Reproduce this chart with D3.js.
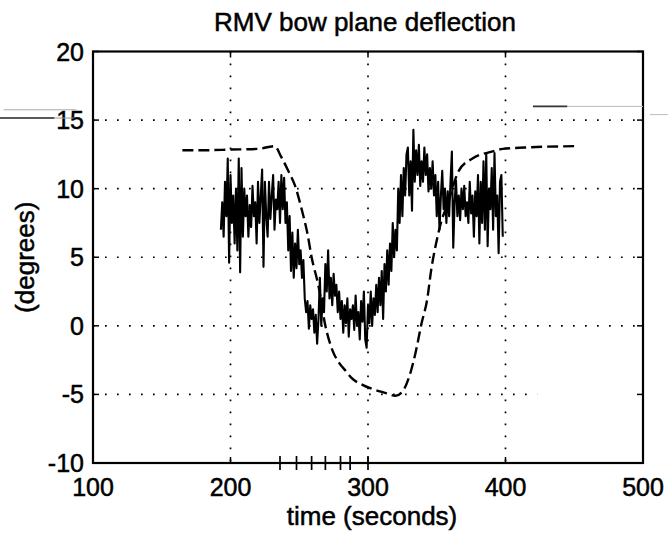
<!DOCTYPE html>
<html>
<head>
<meta charset="utf-8">
<script src="https://cdn.jsdelivr.net/npm/d3@7"></script>
<style>
  body { margin: 0; background: #fff; }
  text { font-family: Arial, "Liberation Sans", sans-serif; fill: #000; stroke: #000; stroke-width: 0.5px; }
</style>
</head>
<body>
<div id="chartDiv"></div>
<script>
var xTicks = [100, 200, 300, 400, 500];
var yTicks = [-10, -5, 0, 5, 10, 15, 20];

// measured bow plane deflection, one sample per second from t = 193 s
var deflStart = 193;
var deflValues = [
  7.0, 9.0, 6.5, 10.5, 8.0, 12.2, 4.6,
  11.0, 7.5, 9.5, 6.0, 10.0, 5.5, 12.2, 3.9, 11.5, 6.5,
  10.0, 8.0, 9.5, 6.5, 8.8, 7.2, 10.2, 8.0, 9.0, 6.0,
  10.5, 7.5, 9.5, 11.4, 4.3, 10.5, 8.0, 6.5, 10.5, 7.8,
  9.5, 11.0, 7.0, 9.2, 8.5, 10.5, 7.5, 11.0, 8.5, 10.8,
  7.5, 9.0, 5.5, 8.0, 4.0, 6.8, 3.5, 6.0, 4.2, 7.0,
  4.5, 5.5, 3.5, 4.8, 2.0, 1.0, 1.8, -0.2, 1.5, 0.5,
  1.2, -0.5, 0.8, -1.3, 0.5, 3.5, 0.0, 2.0, 1.0, 4.5,
  2.5, 5.5, 2.0, 3.5, 1.5, 3.8, 2.2, 3.0, 1.0, 2.5,
  0.5, 1.8, -0.5, 1.5, 0.2, 2.0, -0.8, 1.2, 0.5, 1.5,
  -0.3, 2.2, 0.0, 1.0, -1.0, 1.8, 0.3, 2.5, -1.0, -1.6,
  1.5, 0.2, 2.5, 0.0, 2.0, 0.8, 3.0, 1.0, 3.5, 1.5,
  4.0, 0.5, 4.5, 2.5, 5.5, 3.0, 6.0, 4.0, 7.5, 5.0,
  7.0, 5.5, 10.0, 7.5, 11.0, 8.0, 11.5, 9.5, 12.5, 13.0,
  9.5, 12.0, 8.4, 14.3, 10.5, 12.8, 11.0, 13.2, 10.2, 12.0,
  10.5, 13.0, 11.0, 12.5, 9.8, 11.5, 10.0, 12.0, 9.5, 11.0,
  8.0, 10.5, 7.0, 9.5, 11.3, 8.5, 10.0, 7.5, 9.8, 8.0,
  10.5, 12.7, 5.7, 9.0, 10.6, 8.0, 9.5, 7.7, 10.0, 8.5,
  10.2, 8.0, 9.0, 7.5, 10.5, 8.2, 9.5, 6.5, 9.8, 8.0,
  11.0, 6.0, 10.5, 7.5, 12.0, 7.0, 12.6, 5.8, 10.0, 8.5,
  11.5, 7.0, 12.6, 8.0, 9.5, 5.3, 10.5, 11.0, 6.5
];

// commanded deflection (dashed)
var cmdTimes  = [165, 180, 200, 220, 232, 237, 242, 247, 252, 256, 259, 264, 269, 274, 279, 284, 288, 296, 303, 313, 320, 325, 330, 334.5, 339, 343, 346, 349.5, 353, 358, 366, 376, 390, 398, 414, 451];
var cmdValues = [12.8, 12.8, 12.85, 12.9, 13.1, 12.3, 11.3, 10.2, 8.4, 6.7, 5.0, 2.9, 0.0, -1.75, -2.7, -3.3, -3.8, -4.3, -4.6, -4.9, -5.1, -4.8, -3.7, -2.0, 0.2, 1.9, 4.1, 6.0, 7.5, 8.9, 11.3, 12.2, 12.7, 12.9, 13.0, 13.1];

// event marks along the time axis
var markTimes = [236, 248, 259, 269, 280, 287, 300];

var width = 669, height = 534;
var margin = {left: 93, top: 51.5, right: 26, bottom: 71};
var innerW = width - margin.left - margin.right,
    innerH = height - margin.top - margin.bottom;

var x = d3.scaleLinear().domain([100, 500]).range([0, innerW]);
var y = d3.scaleLinear().domain([-10, 20]).range([innerH, 0]);

var svg = d3.select("#chartDiv").append("svg")
  .attr("width", width)
  .attr("height", height);

var g = svg.append("g")
  .attr("transform", "translate(" + margin.left + "," + margin.top + ")");

//////////////////// grid ////////////////////
g.selectAll("line.vgrid")
  .data(xTicks.slice(1, -1))
  .enter().append("line")
  .attr("class", "vgrid")
  .attr("x1", function(d) { return x(d); })
  .attr("x2", function(d) { return x(d); })
  .attr("y1", 0).attr("y2", innerH)
  .attr("stroke", "#000").attr("stroke-width", 1.7)
  .attr("stroke-dasharray", "1.7,10.3");

g.selectAll("line.hgrid")
  .data(yTicks.slice(1, -1))
  .enter().append("line")
  .attr("class", "hgrid")
  .attr("x1", 0)
  .attr("x2", function(d) { return d == -5 ? x(423) : innerW; }) // faded on the scan
  .attr("y1", function(d) { return y(d); })
  .attr("y2", function(d) { return y(d); })
  .attr("stroke", "#000").attr("stroke-width", 1.7)
  .attr("stroke-dasharray", "1.7,10.3");

//////////////////// lines ////////////////////
var line = d3.line()
  .x(function(d) { return x(d[0]); })
  .y(function(d) { return y(d[1]); });

var deflPts = deflValues.map(function(v, i) { return [deflStart + i, v]; });
var cmdPts = cmdTimes.map(function(t, i) { return [t, cmdValues[i]]; });

g.append("path")
  .datum(cmdPts)
  .attr("fill", "none")
  .attr("stroke", "#000")
  .attr("stroke-width", 2.4)
  .attr("stroke-dasharray", "11,5")
  .attr("d", line.curve(d3.curveMonotoneX));

g.append("path")
  .datum(deflPts)
  .attr("fill", "none")
  .attr("stroke", "#000")
  .attr("stroke-width", 2.1)
  .attr("stroke-linejoin", "round")
  .attr("d", line.curve(d3.curveLinear));

//////////////////// frame & ticks ////////////////////
g.append("rect")
  .attr("width", innerW).attr("height", innerH)
  .attr("fill", "none").attr("stroke", "#000").attr("stroke-width", 2.2);

var tl = 6;
xTicks.forEach(function(t) {
  g.append("line").attr("x1", x(t)).attr("x2", x(t)).attr("y1", innerH).attr("y2", innerH - tl)
    .attr("stroke", "#000").attr("stroke-width", 1.5);
  g.append("line").attr("x1", x(t)).attr("x2", x(t)).attr("y1", 0).attr("y2", tl)
    .attr("stroke", "#000").attr("stroke-width", 1.5);
});
yTicks.forEach(function(t) {
  g.append("line").attr("x1", 0).attr("x2", tl).attr("y1", y(t)).attr("y2", y(t))
    .attr("stroke", "#000").attr("stroke-width", 1.5);
  g.append("line").attr("x1", innerW).attr("x2", innerW - tl).attr("y1", y(t)).attr("y2", y(t))
    .attr("stroke", "#000").attr("stroke-width", 1.5);
});

g.selectAll("line.mark")
  .data(markTimes)
  .enter().append("line")
  .attr("class", "mark")
  .attr("x1", function(d) { return x(d); })
  .attr("x2", function(d) { return x(d); })
  .attr("y1", innerH - 7).attr("y2", innerH + 7)
  .attr("stroke", "#000").attr("stroke-width", 1.7);

//////////////////// tick labels ////////////////////
g.selectAll("text.xt")
  .data(xTicks)
  .enter().append("text")
  .attr("class", "xt")
  .attr("x", function(d) { return x(d); })
  .attr("y", innerH + 33)
  .attr("text-anchor", "middle")
  .style("font-size", "25px")
  .text(function(d) { return d; });

g.selectAll("text.yt")
  .data(yTicks)
  .enter().append("text")
  .attr("class", "yt")
  .attr("x", -9)
  .attr("y", function(d) { return y(d); })
  .attr("dy", "0.36em")
  .attr("text-anchor", "end")
  .style("font-size", "25px")
  .text(function(d) { return d; });

//////////////////// titles ////////////////////
svg.append("text")
  .attr("x", margin.left + innerW / 2 - 3)
  .attr("y", 31)
  .attr("text-anchor", "middle")
  .style("font-size", "26px")
  .text("RMV bow plane deflection");

svg.append("text")
  .attr("x", margin.left + innerW / 2 + 4)
  .attr("y", 525)
  .attr("text-anchor", "middle")
  .style("font-size", "26px")
  .text("time (seconds)");

svg.append("text")
  .attr("transform", "translate(34," + (margin.top + y(5)) + ") rotate(-90)")
  .attr("text-anchor", "middle")
  .style("font-size", "26px")
  .text("(degrees)");

//////////////////// scan streaks at the 15 line ////////////////////
var streaks = [
  {x0: 32, x1: 72, v: 15.15, w: 1.6, c: "#222"},
  {x0: 72, x1: 86, v: 15.15, w: 1, c: "#999"},
  {x0: 35, x1: 88, v: 15.75, w: 1, c: "#aaa"},
  {x0: 420, x1: 445, v: 16.0, w: 1.6, c: "#333"},
  {x0: 445, x1: 500, v: 16.0, w: 1, c: "#bbb"},
  {x0: 505, x1: 518, v: 15.4, w: 1, c: "#bbb"}
];
g.selectAll("line.streak")
  .data(streaks)
  .enter().append("line")
  .attr("x1", function(d) { return x(d.x0); })
  .attr("x2", function(d) { return x(d.x1); })
  .attr("y1", function(d) { return y(d.v); })
  .attr("y2", function(d) { return y(d.v); })
  .attr("stroke", function(d) { return d.c; })
  .attr("stroke-width", function(d) { return d.w; });
</script>
</body>
</html>
